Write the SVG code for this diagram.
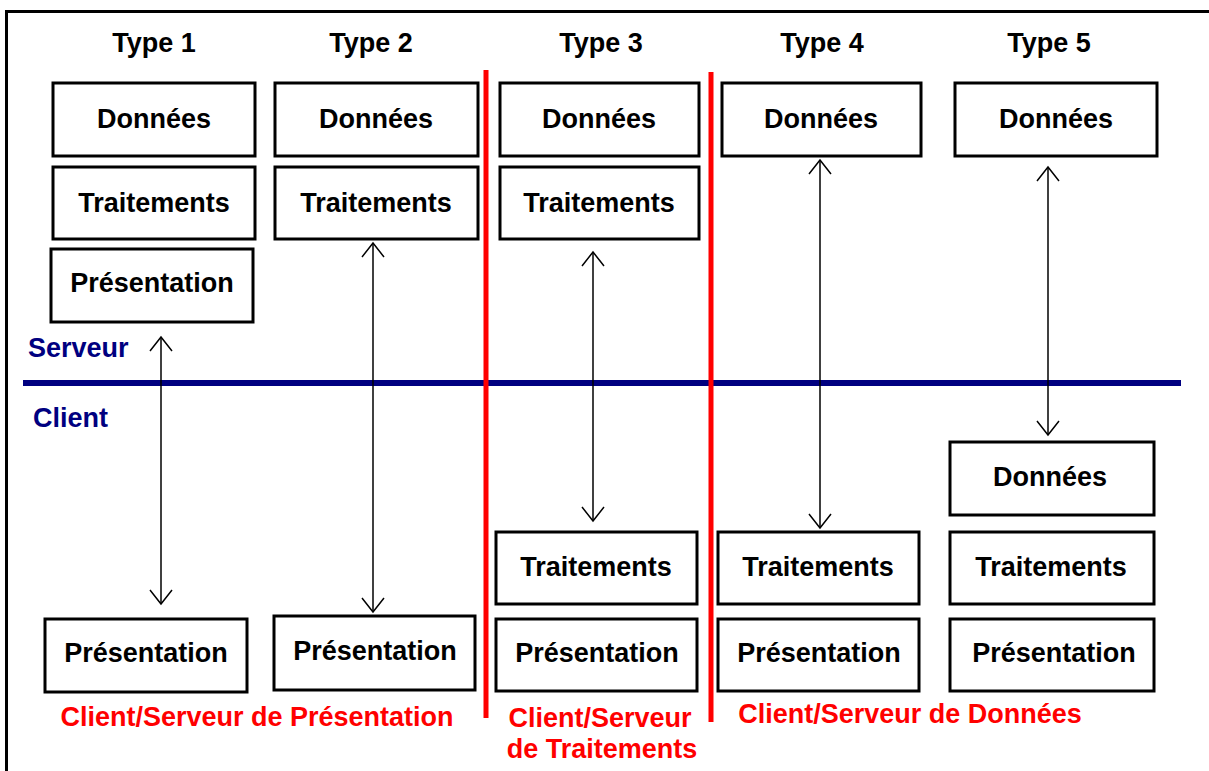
<svg xmlns="http://www.w3.org/2000/svg" width="1209" height="771" viewBox="0 0 1209 771">
  <style>
    .box rect { fill: #ffffff; stroke: #000000; stroke-width: 3; }
    .lbl { font-family: "Liberation Sans", Arial, sans-serif; font-weight: bold; font-size: 27px; text-anchor: middle; fill: #000000; }
    .side { font-family: "Liberation Sans", Arial, sans-serif; font-weight: bold; font-size: 27px; fill: #000080; }
    .cat { font-family: "Liberation Sans", Arial, sans-serif; font-weight: bold; font-size: 27px; text-anchor: middle; fill: #ff0000; }
    .link { stroke: #000000; stroke-width: 1.5; fill: none; marker-start: url(#tip); marker-end: url(#tip); }
    .divider { stroke: #ff0000; stroke-width: 5; }
  </style>
  <defs>
    <marker id="tip" viewBox="-16 -13 18 26" refX="0" refY="0" markerWidth="18" markerHeight="26" markerUnits="userSpaceOnUse" orient="auto-start-reverse">
      <polyline points="-14,-11 0,0 -14,11" fill="none" stroke="#000000" stroke-width="1.5"/>
    </marker>
  </defs>

  <rect width="1209" height="771" fill="#ffffff"/>

  <!-- frame -->
  <g id="frame" stroke="#000000" stroke-width="3" fill="none">
    <line x1="6" y1="11.5" x2="1209" y2="11.5"/>
    <line x1="6.5" y1="10" x2="6.5" y2="771"/>
  </g>

  <!-- server / client boundary -->
  <g id="boundary">
    <line x1="23" y1="383" x2="1181" y2="383" stroke="#000080" stroke-width="6"/>
    <text class="side" x="28" y="357">Serveur</text>
    <text class="side" x="33" y="427">Client</text>
  </g>

  <!-- category dividers -->
  <g id="dividers">
    <line class="divider" x1="486" y1="70" x2="486" y2="718"/>
    <line class="divider" x1="711" y1="72" x2="711" y2="722"/>
  </g>

  <!-- column headings -->
  <g id="headings">
    <text class="lbl" x="154" y="52">Type 1</text>
    <text class="lbl" x="371" y="52">Type 2</text>
    <text class="lbl" x="601" y="52">Type 3</text>
    <text class="lbl" x="822" y="52">Type 4</text>
    <text class="lbl" x="1049" y="52">Type 5</text>
  </g>

  <!-- Type 1 -->
  <g id="t1-donnees" class="box"><rect x="53" y="83" width="202" height="73"/><text class="lbl" x="154" y="128">Données</text></g>
  <g id="t1-traitements" class="box"><rect x="53" y="167" width="202" height="72"/><text class="lbl" x="154" y="212">Traitements</text></g>
  <g id="t1-presentation-srv" class="box"><rect x="51" y="249" width="202" height="73"/><text class="lbl" x="152" y="292">Présentation</text></g>
  <g id="t1-presentation-cli" class="box"><rect x="45" y="619" width="202" height="73"/><text class="lbl" x="146" y="662">Présentation</text></g>

  <!-- Type 2 -->
  <g id="t2-donnees" class="box"><rect x="275" y="83" width="203" height="73"/><text class="lbl" x="376" y="128">Données</text></g>
  <g id="t2-traitements" class="box"><rect x="275" y="167" width="203" height="72"/><text class="lbl" x="376" y="212">Traitements</text></g>
  <g id="t2-presentation-cli" class="box"><rect x="274" y="616" width="201" height="74"/><text class="lbl" x="375" y="660">Présentation</text></g>

  <!-- Type 3 -->
  <g id="t3-donnees" class="box"><rect x="500" y="83" width="199" height="73"/><text class="lbl" x="599" y="128">Données</text></g>
  <g id="t3-traitements-srv" class="box"><rect x="500" y="167" width="199" height="72"/><text class="lbl" x="599" y="212">Traitements</text></g>
  <g id="t3-traitements-cli" class="box"><rect x="496" y="532" width="201" height="72"/><text class="lbl" x="596" y="576">Traitements</text></g>
  <g id="t3-presentation-cli" class="box"><rect x="496" y="619" width="201" height="72"/><text class="lbl" x="597" y="662">Présentation</text></g>

  <!-- Type 4 -->
  <g id="t4-donnees" class="box"><rect x="722" y="83" width="199" height="73"/><text class="lbl" x="821" y="128">Données</text></g>
  <g id="t4-traitements-cli" class="box"><rect x="718" y="532" width="201" height="72"/><text class="lbl" x="818" y="576">Traitements</text></g>
  <g id="t4-presentation-cli" class="box"><rect x="718" y="619" width="201" height="72"/><text class="lbl" x="819" y="662">Présentation</text></g>

  <!-- Type 5 -->
  <g id="t5-donnees-srv" class="box"><rect x="955" y="83" width="202" height="73"/><text class="lbl" x="1056" y="128">Données</text></g>
  <g id="t5-donnees-cli" class="box"><rect x="950" y="442" width="204" height="73"/><text class="lbl" x="1050" y="486">Données</text></g>
  <g id="t5-traitements-cli" class="box"><rect x="950" y="532" width="204" height="72"/><text class="lbl" x="1051" y="576">Traitements</text></g>
  <g id="t5-presentation-cli" class="box"><rect x="950" y="619" width="204" height="72"/><text class="lbl" x="1054" y="662">Présentation</text></g>

  <!-- client/server exchanges -->
  <g id="connectors">
    <line class="link" x1="161" y1="337" x2="161" y2="604"/>
    <line class="link" x1="373" y1="243" x2="373" y2="612"/>
    <line class="link" x1="593" y1="252" x2="593" y2="521"/>
    <line class="link" x1="820" y1="160" x2="820" y2="528"/>
    <line class="link" x1="1048" y1="167" x2="1048" y2="435"/>
  </g>

  <!-- category captions -->
  <g id="captions">
    <text class="cat" x="257" y="726">Client/Serveur de Présentation</text>
    <text class="cat" x="600" y="727">Client/Serveur</text>
    <text class="cat" x="602" y="758">de Traitements</text>
    <text class="cat" x="910" y="723">Client/Serveur de Données</text>
  </g>
</svg>
